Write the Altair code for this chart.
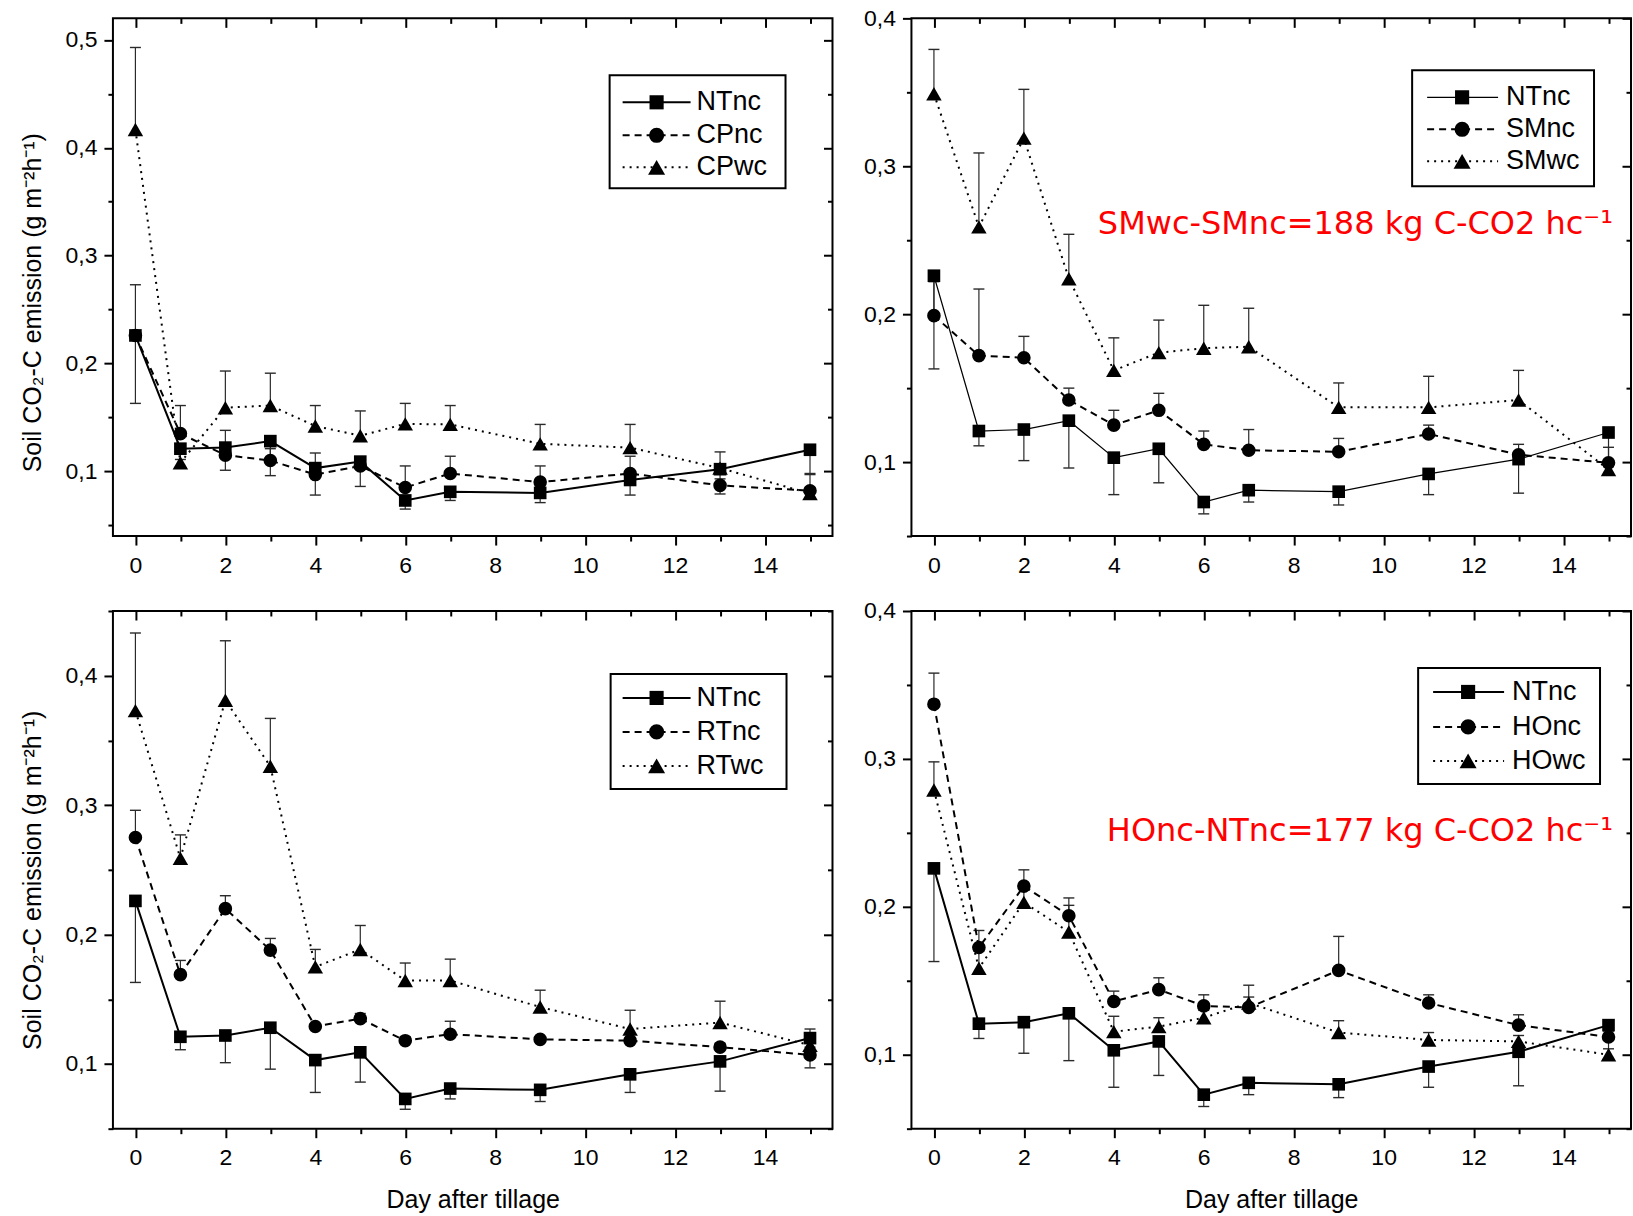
import altair as alt
import pandas as pd

# Sampling days after tillage
days = [0, 1, 2, 3, 4, 5, 6, 7, 9, 11, 13, 15]

# NTnc: no tillage, no cover (reference in every panel); mean and lower error limit
ntnc = [0.226, 0.121, 0.122, 0.128, 0.103, 0.109, 0.073, 0.081, 0.080, 0.092, 0.102, 0.120]
ntnc_lo = [0.163, 0.111, 0.101, 0.096, 0.078, 0.086, 0.065, 0.073, 0.071, 0.078, 0.079, 0.097]

# Chisel plough
cpnc = [0.226, 0.135, 0.115, 0.110, 0.097, 0.105, 0.085, 0.098, 0.090, 0.098, 0.087, 0.082]
cpnc_hi = [0.273, 0.161, 0.138, 0.121, 0.117, 0.112, 0.105, 0.114, 0.105, 0.114, 0.093, 0.098]
cpwc = [0.417, 0.108, 0.159, 0.161, 0.142, 0.133, 0.144, 0.1435, 0.1255, 0.122, 0.103, 0.0795]
cpwc_hi = [0.493, 0.118, 0.193, 0.191, 0.161, 0.156, 0.163, 0.161, 0.1435, 0.1435, 0.118, 0.085]

# Subsoiler + mouldboard
smnc = [0.199, 0.172, 0.1705, 0.142, 0.125, 0.135, 0.112, 0.108, 0.107, 0.119, 0.105, 0.0995]
smnc_hi = [0.222, 0.217, 0.185, 0.150, 0.135, 0.1465, 0.121, 0.122, 0.116, 0.125, 0.112, 0.110]
smwc = [0.349, 0.259, 0.319, 0.224, 0.162, 0.174, 0.177, 0.178, 0.137, 0.137, 0.142, 0.095]
smwc_hi = [0.379, 0.309, 0.352, 0.254, 0.184, 0.196, 0.206, 0.204, 0.1535, 0.158, 0.162, 0.100]

# Reduced tillage
rtnc = [0.275, 0.169, 0.220, 0.188, 0.129, 0.135, 0.118, 0.123, 0.119, 0.118, 0.113, 0.107]
rtnc_hi = [0.296, 0.180, 0.230, 0.197, 0.131, 0.139, 0.121, 0.133, 0.121, 0.120, 0.116, 0.113]
rtwc = [0.373, 0.259, 0.381, 0.330, 0.175, 0.1885, 0.1645, 0.1645, 0.144, 0.127, 0.132, 0.1145]
rtwc_hi = [0.433, 0.277, 0.427, 0.367, 0.1885, 0.207, 0.178, 0.181, 0.157, 0.1415, 0.1485, 0.127]

# Harrow
honc = [0.337, 0.1725, 0.214, 0.194, 0.136, 0.144, 0.133, 0.132, 0.157, 0.135, 0.120, 0.112]
honc_hi = [0.358, 0.184, 0.225, 0.206, 0.143, 0.152, 0.1405, 0.139, 0.180, 0.1405, 0.127, 0.116]
howc = [0.279, 0.1585, 0.203, 0.183, 0.1156, 0.119, 0.125, 0.135, 0.115, 0.110, 0.109, 0.100]
howc_hi = [0.298, 0.170, 0.212, 0.201, 0.126, 0.125, 0.130, 0.147, 0.123, 0.115, 0.113, 0.104]

names_cp = ["NTnc", "CPnc", "CPwc"]
names_sm = ["NTnc", "SMnc", "SMwc"]
names_rt = ["NTnc", "RTnc", "RTwc"]
names_ho = ["NTnc", "HOnc", "HOwc"]

note_sm = "SMwc-SMnc=188 kg C-CO2 hc\u207b\u00b9"
note_ho = "HOnc-NTnc=177 kg C-CO2 hc\u207b\u00b9"

x_major = [0, 2, 4, 6, 8, 10, 12, 14]
x_minor = [1, 3, 5, 7, 9, 11, 13, 15]

y_title = "Soil CO\u2082-C emission (g m\u207b\u00b2h\u207b\u00b9)"
x_title = "Day after tillage"

FONT = "Liberation Sans"
INK = "black"
BAR = "#2a2a2a"
W, H = 720, 518

SHAPES = ["square", "circle", "triangle-up"]
SIZES = [160, 185, 240]
KEY_SIZES = [200, 230, 290]
DASHES = [None, [7, 5], [2, 5]]


def panel(names, means, limits, y_dom, y_major, y_minor, legend,
          note=None, left=False, bottom=False, nt_width=2.0, title_y=259):
    xs = alt.Scale(domain=[-0.5, 15.5], nice=False, zero=False)
    ys = alt.Scale(domain=y_dom, nice=False, zero=False)
    frames = [pd.DataFrame({"day": days, "value": m, "limit": l, "series": n})
              for n, m, l in zip(names, means, limits)]
    allf = pd.concat(frames, ignore_index=True)

    def X(axis):
        return alt.X("day:Q", scale=xs, axis=axis)

    def Y(axis, field="value:Q"):
        return alt.Y(field, scale=ys, axis=axis)

    common = dict(domain=False, grid=False, tickColor=INK, tickWidth=2)
    lab = "replace(format(datum.value, '.1f'), '.', ',')"

    if bottom:
        bottom_kw = dict(title=x_title, titleFont=FONT, titleFontSize=25,
                         titleFontWeight="normal", titleColor=INK, titlePadding=18)
    else:
        bottom_kw = dict(title=None)
    if left:
        left_kw = dict(title=y_title, titleFont=FONT, titleFontSize=25,
                       titleFontWeight="normal", titleColor=INK, titlePadding=20,
                       titleY=title_y)
    else:
        left_kw = dict(title=None)

    ax_x = [
        alt.Axis(orient="bottom", values=x_major, tickSize=9, labelFont=FONT,
                 labelFontSize=23, labelColor=INK, labelPadding=9, **bottom_kw, **common),
        alt.Axis(orient="bottom", values=x_minor, tickSize=5, labels=False, title=None, **common),
        alt.Axis(orient="top", values=x_major, tickSize=9, offset=-9, labels=False, title=None, **common),
        alt.Axis(orient="top", values=x_minor, tickSize=5, offset=-5, labels=False, title=None, **common),
    ]
    ax_y = [
        alt.Axis(orient="left", values=y_major, tickSize=9, labelFont=FONT,
                 labelFontSize=23, labelColor=INK, labelPadding=7, labelExpr=lab,
                 **left_kw, **common),
        alt.Axis(orient="left", values=y_minor, tickSize=5, labels=False, title=None, **common),
        alt.Axis(orient="right", values=y_major, tickSize=9, offset=-9, labels=False, title=None, **common),
        alt.Axis(orient="right", values=y_minor, tickSize=5, offset=-5, labels=False, title=None, **common),
    ]

    layers = []
    # frame ticks and labels
    for ax, ay in zip(ax_x, ax_y):
        layers.append(alt.Chart(allf).mark_point(opacity=0).encode(x=X(ax), y=Y(ay)))

    # one-sided error bars: lower for the reference, upper for the treatments
    for f in frames:
        base = alt.Chart(f)
        layers.append(base.mark_rule(color=BAR, strokeWidth=1.2).encode(
            x=X(None), y=Y(None), y2="limit:Q"))
        layers.append(base.mark_rule(color=BAR, strokeWidth=1.4, xOffset=-5.5, x2Offset=5.5).encode(
            x=X(None), x2="day:Q", y=Y(None, "limit:Q")))

    # connecting lines
    for i, f in enumerate(frames):
        kw = {} if DASHES[i] is None else {"strokeDash": DASHES[i]}
        width = nt_width if i == 0 else 2.0
        layers.append(alt.Chart(f).mark_line(color=INK, strokeWidth=width, **kw).encode(
            x=X(None), y=Y(None)))

    # markers
    for i, f in enumerate(frames):
        layers.append(alt.Chart(f).mark_point(shape=SHAPES[i], size=SIZES[i], filled=True,
                                              opacity=1, color=INK).encode(x=X(None), y=Y(None)))

    # legend box
    bx0, by0, bx1, by1, rows, lx0, lx1, mx, tx = legend
    layers.append(alt.Chart(pd.DataFrame({"series": [names[0]]})).mark_rect(
        fill="white", stroke=INK, strokeWidth=2).encode(
        x=alt.value(bx0), x2=alt.value(bx1), y=alt.value(by0), y2=alt.value(by1)))
    for i, n in enumerate(names):
        d = alt.Chart(pd.DataFrame({"series": [n]}))
        kw = {} if DASHES[i] is None else {"strokeDash": DASHES[i]}
        width = nt_width if i == 0 else 2.0
        layers.append(d.mark_rule(color=INK, strokeWidth=width, **kw).encode(
            x=alt.value(lx0), x2=alt.value(lx1), y=alt.value(rows[i])))
        layers.append(d.mark_point(shape=SHAPES[i], size=KEY_SIZES[i], filled=True, opacity=1,
                                   color=INK).encode(x=alt.value(mx), y=alt.value(rows[i])))
        layers.append(d.mark_text(align="left", baseline="middle", font=FONT, fontSize=27,
                                  color=INK).encode(x=alt.value(tx), y=alt.value(rows[i]),
                                                    text="series:N"))

    if note is not None:
        text, nx, ny = note
        layers.append(alt.Chart(pd.DataFrame({"day": [nx], "value": [ny], "label": [text]})).mark_text(
            align="right", baseline="alphabetic", font="DejaVu Sans", fontSize=32,
            color="#ff0000").encode(x=X(None), y=Y(None), text="label:N"))

    return alt.layer(*layers).resolve_axis(x="independent", y="independent").properties(
        width=W, height=H)


p_cp = panel(names_cp, [ntnc, cpnc, cpwc], [ntnc_lo, cpnc_hi, cpwc_hi],
             [0.04, 0.52], [0.1, 0.2, 0.3, 0.4, 0.5],
             [0.05, 0.15, 0.25, 0.35, 0.45],
             (497, 57, 673, 170, [84, 117, 149], 510, 578, 544, 584),
             left=True, title_y=284)
p_sm = panel(names_sm, [ntnc, smnc, smwc], [ntnc_lo, smnc_hi, smwc_hi],
             [0.05, 0.4], [0.1, 0.2, 0.3, 0.4],
             [0.05, 0.15, 0.25, 0.35],
             (501, 52, 683, 168, [79, 111, 143], 516, 587, 551, 595),
             note=(note_sm, 15.1, 0.254), nt_width=1.2)
p_rt = panel(names_rt, [ntnc, rtnc, rtwc], [ntnc_lo, rtnc_hi, rtwc_hi],
             [0.05, 0.45], [0.1, 0.2, 0.3, 0.4],
             [0.05, 0.15, 0.25, 0.35, 0.45],
             (498, 63, 674, 178, [87, 121, 155], 510, 578, 544, 584),
             left=True, bottom=True, title_y=269)
p_ho = panel(names_ho, [ntnc, honc, howc], [ntnc_lo, honc_hi, howc_hi],
             [0.05, 0.4], [0.1, 0.2, 0.3, 0.4],
             [0.05, 0.15, 0.25, 0.35],
             (507, 57, 689, 173, [81, 116, 150], 522, 593, 557, 601),
             note=(note_ho, 15.1, 0.2445), bottom=True)

chart = alt.concat(
    p_cp, p_sm, p_rt, p_ho,
    columns=2,
    spacing={"row": 75, "column": 79},
    bounds="flush",
).properties(
    padding={"left": 19, "top": 6, "right": 0, "bottom": 4},
    background="white",
).configure_view(stroke=INK, strokeWidth=2)

chart.save("out.html", embed_options={"renderer": "svg", "actions": False})
